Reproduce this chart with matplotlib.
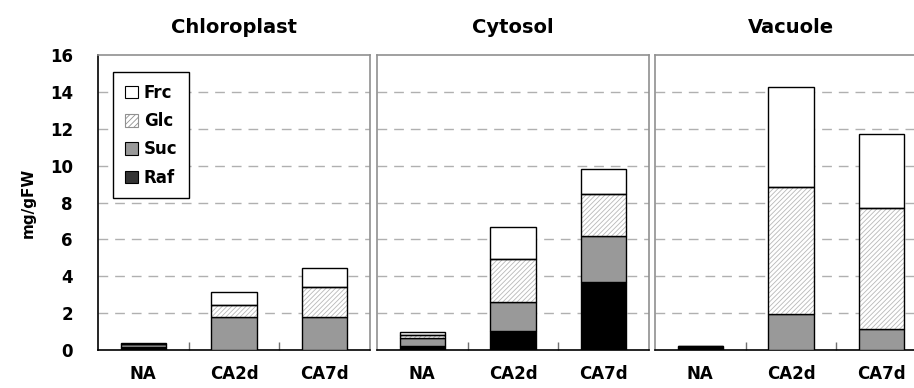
import matplotlib
matplotlib.use("Agg")
import matplotlib.pyplot as plt
import numpy as np
from matplotlib.patches import Patch

plt.rcParams["font.family"] = ["DejaVu Sans"]
plt.rcParams["font.weight"] = "bold"
plt.rcParams["hatch.linewidth"] = 0.6

categories = ["NA", "CA2d", "CA7d"]
compartments = ["Chloroplast", "Cytosol", "Vacuole"]

# stacked values (mg/gFW), bottom to top: Raf, Suc, Glc, Frc
raf = {"Chloroplast": [0.15, 0.0, 0.0],
       "Cytosol": [0.20, 1.03, 3.71],
       "Vacuole": [0.10, 0.0, 0.0]}
suc = {"Chloroplast": [0.15, 1.80, 1.80],
       "Cytosol": [0.44, 1.56, 2.47],
       "Vacuole": [0.08, 1.93, 1.14]}
glc = {"Chloroplast": [0.02, 0.64, 1.62],
       "Cytosol": [0.16, 2.35, 2.30],
       "Vacuole": [0.02, 6.93, 6.55]}
frc = {"Chloroplast": [0.04, 0.72, 1.03],
       "Cytosol": [0.16, 1.75, 1.32],
       "Vacuole": [0.02, 5.39, 4.03]}

yticks = [0, 2, 4, 6, 8, 10, 12, 14, 16]

W, H = 914, 388
fig = plt.figure(figsize=(W / 100, H / 100), dpi=100)
fig.patch.set_facecolor("white")

lefts = [98, 377, 655]
axw = 272
bottom_px, top_px = 350, 55

x = np.arange(len(categories))
bw = 0.5

for i, (name, lp) in enumerate(zip(compartments, lefts)):
    ax = fig.add_axes([lp / W, 1 - bottom_px / H, axw / W, (bottom_px - top_px) / H])
    r = np.array(raf[name])
    s = np.array(suc[name])
    g = np.array(glc[name])
    f = np.array(frc[name])

    ax.bar(x, r, bw, color="black", edgecolor="black", linewidth=1, zorder=3)
    ax.bar(x, s, bw, bottom=r, color="#999999", edgecolor="black", linewidth=1, zorder=3)
    # hatched glucose: light hatch, then black outline
    ax.bar(x, g, bw, bottom=r + s, color="white", edgecolor="#b8b8b8",
           hatch="///////", linewidth=0, zorder=3)
    ax.bar(x, g, bw, bottom=r + s, fill=False, edgecolor="black", linewidth=1, zorder=4)
    ax.bar(x, f, bw, bottom=r + s + g, color="white", edgecolor="black", linewidth=1, zorder=3)

    ax.set_xlim(-0.5, 2.5)
    ax.set_ylim(0, 16)
    ax.set_yticks(yticks)
    for yv in yticks[1:-1]:
        ax.axhline(yv, color="#b0b0b0", linestyle=(0, (7, 5)), linewidth=1, zorder=1)

    ax.set_xticks(x)
    ax.set_xticklabels(categories, fontsize=12, fontweight="bold")
    ax.tick_params(axis="x", length=0, pad=11)
    ax.set_xticks([0.5, 1.5], minor=True)
    ax.tick_params(axis="x", which="minor", direction="in", length=6, width=1, color="#707070")

    if i == 0:
        ax.set_yticklabels([str(v) for v in yticks], fontsize=12, fontweight="bold")
        ax.tick_params(axis="y", length=0, pad=18)
        ax.set_ylabel("mg/gFW", fontsize=11, fontweight="bold", labelpad=10)
        ax.spines["left"].set_color("black")
    else:
        ax.tick_params(axis="y", length=0, labelleft=False)
        ax.spines["left"].set_color("#909090")
    ax.spines["left"].set_linewidth(1.2)
    ax.spines["top"].set_color("#909090")
    ax.spines["right"].set_color("#909090")
    ax.spines["top"].set_linewidth(1.2)
    ax.spines["right"].set_linewidth(1.2)
    ax.spines["bottom"].set_color("black")
    ax.spines["bottom"].set_linewidth(1.2)

    ax.set_title(name, fontsize=14, fontweight="bold", pad=16)

    if i == 0:
        handles = [
            Patch(facecolor="white", edgecolor="black", linewidth=0.8, label="Frc"),
            Patch(facecolor="white", edgecolor="#909090", hatch="//////", linewidth=0.8, label="Glc"),
            Patch(facecolor="#999999", edgecolor="black", linewidth=0.8, label="Suc"),
            Patch(facecolor="#333333", edgecolor="black", linewidth=0.8, label="Raf"),
        ]
        leg = ax.legend(handles=handles, loc="upper left", bbox_to_anchor=(0.055, 0.942),
                        borderaxespad=0, fancybox=False, framealpha=1, edgecolor="black",
                        prop={"size": 12, "weight": "bold"},
                        handlelength=0.8, handleheight=0.8, handletextpad=0.35,
                        labelspacing=0.62, borderpad=0.7)
        leg.get_frame().set_linewidth(1)
        leg.set_zorder(10)

fig.savefig("out.png", dpi=100, facecolor="white")
